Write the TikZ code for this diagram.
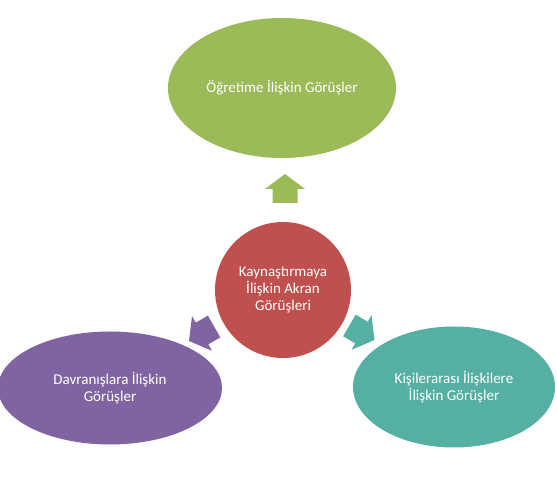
\documentclass[tikz,border=0pt]{standalone}
\usepackage{fontspec}
\setmainfont{Carlito}
\usetikzlibrary{shapes.geometric}
\definecolor{ogreen}{HTML}{9BBB59}
\definecolor{ored}{HTML}{C0504D}
\definecolor{opurple}{HTML}{8064A2}
\definecolor{oteal}{HTML}{55B0A3}
\begin{document}
\begin{tikzpicture}[
  x=0.03cm, y=0.03cm,
  blob/.style={ellipse, inner sep=0pt, align=center, text=white, font=\fontsize{12.8}{14.8}\selectfont},
  hub/.style={circle, inner sep=0pt, minimum size=136*0.03cm, align=center, text=white, font=\fontsize{12.8}{14.8}\selectfont, fill=ored},
  bigarrow/.pic={\fill (0,15) -- (20,0) -- (12.5,0) -- (12.5,-14) -- (-12.5,-14) -- (-12.5,0) -- (-20,0) -- cycle;}
]
\useasboundingbox (0,0) rectangle (557,486);
% centre
\node[hub] (hub) at (283,196) {Kaynaştırmaya\\İlişkin Akran\\Görüşleri};
% outer views
\node[blob, fill=ogreen, minimum width=228*0.03cm, minimum height=140*0.03cm] (teach) at (282,398) {Öğretime İlişkin Görüşler};
\node[blob, fill=opurple, minimum width=224*0.03cm, minimum height=113*0.03cm] (behave) at (110,98) {Davranışlara İlişkin\\Görüşler};
\node[blob, fill=oteal, minimum width=202*0.03cm, minimum height=121*0.03cm] (social) at (454,99) {Kişilerarası İlişkilere\\İlişkin Görüşler};
% arrows
\pic[fill=ogreen] at (285,297) {bigarrow};
\pic[fill=opurple, rotate=120] at (202,152.5) {bigarrow};
\pic[fill=oteal, rotate=-120] at (361.5,153.5) {bigarrow};
\end{tikzpicture}
\end{document}
